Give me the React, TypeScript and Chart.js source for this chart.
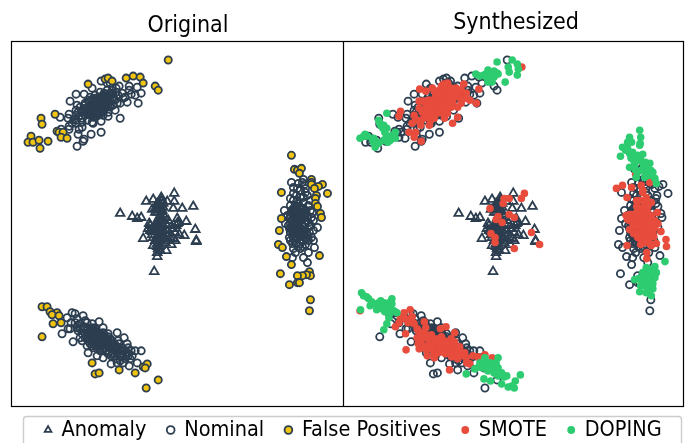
import React, { useEffect, useRef } from "react";
import { Chart, registerables } from "chart.js";

Chart.register(...registerables);

type Pair = [number, number];

const panelTitles = ["Original", "Synthesized"];
const seriesNames = ["Anomaly", "Nominal", "False Positives", "SMOTE", "DOPING"];

const anomaly: Pair[] = [
  [120,213],[132,216],[137,218],[141,217],[146,201],[153,199],[161,197],[167,201],[174,193],[174,201],[173,208],[182,208],[193,206],[186,221],[195,229],[196,241],[184,235],[179,234],[143,238],[154,271],[157,256],[166,250],[171,244],[175,240],[152,209],[155,208],[159,203],[163,203],[157,212],[160,215],[165,217],[168,220],[177,218],[177,223],[149,223],[148,228],[152,228],[155,225],[158,222],[162,223],[167,225],[172,228],[175,232],[170,237],[165,238],[160,240],[157,243],[153,245],[158,248],[162,233],[157,235],[153,237],[152,234],[163,230],[168,230],[158,228],[162,210],[163,220],[158,218],[157,240],[160,245],[168,240],[173,238],[157,252],[178,222],[150,225],[162,200],[196,240],
  [155,212],[157,207],[160,205],[163,207],[160,210],[159,225],[161,227],[159,231],[161,233],[155,230],[157,226],[160,236],[163,236],[155,240],[157,246],[159,238],[165,233],[152,231],[165,242],[160,250],[158,243],[161,218],[163,214],[157,203],[150,230],[161,200],[176,225],
];

const nominalUpper: Pair[] = [
  [77,146],[83,141],[84,139],[91,134],[101,132],[120,118],[138,103],[141,93],[137,87],[129,86],[119,86],[101,81],[84,94],[76,94],[70,101],[60,117],[69,114],[68,118],[69,126],[69,129],[61,129],[78,134],[79,129],[82,127],[77,105],[76,110],[76,115],[76,120],[76,123],[82,122],[87,120],[92,122],[93,123],[101,121],[108,116],[115,110],[120,103],[127,102],[125,97],[131,94],[135,95],[129,90],[118,95],[117,103],[110,107],[107,83],[110,83],[92,88],[100,92],[95,95],[90,97],[85,103],[89,102],[81,112],[85,115],[90,115],[95,112],[100,107],[105,103],[110,93],[113,97],[97,102],[102,100],[107,98],[92,108],[97,108],[100,112],[103,110],[93,103],[88,108],[82,118],[107,90],[112,90],[98,115],[103,115],[93,117],[88,112],[80,107],[85,108],[97,105],[102,105],[105,108],[108,112],[100,103],[95,98],[103,95],[108,102],[115,100],[122,93],[123,98],
  [96,110],[98,108],[100,110],[94,106],[96,104],[99,107],[101,108],[93,110],[95,114],[97,113],[91,112],[104,106],[102,103],[99,101],[106,100],[104,98],
  [85,112],[87,110],[89,110],[91,108],[93,108],[95,106],[97,104],[99,104],[101,102],[103,101],[105,99],[107,96],[109,96],[111,95],[90,106],[92,104],[94,102],[96,100],[98,98],[100,97],[102,97],[104,93],[106,94],[88,114],[90,112],[92,114],[94,113],[96,116],[98,112],[100,114],[102,110],[104,109],[106,105],[108,105],[110,100],[112,99],[113,93],[116,92],[85,105],[83,110],[79,116],[78,112],[74,119],[72,123],[88,100],[92,99],[116,88],[113,105],
];

const nominalLower: Pair[] = [
  [62,333],[73,341],[67,317],[72,312],[75,313],[83,315],[68,328],[71,322],[77,318],[80,323],[87,322],[99,321],[103,327],[93,327],[78,330],[82,340],[88,352],[93,347],[97,355],[103,357],[111,363],[117,332],[124,337],[127,343],[141,350],[135,350],[132,355],[137,362],[129,365],[123,362],[117,362],[108,353],[100,350],[87,345],[80,337],[77,327],[85,333],[90,335],[95,333],[100,333],[105,337],[108,333],[107,342],[98,340],[92,340],[88,328],[113,342],[118,340],[122,347],[115,348],[112,352],[120,355],[127,352],[105,347],[95,343],[102,345],[83,328],[75,322],[70,328],[130,358],[123,353],[117,353],[110,347],
  [98,335],[96,337],[100,338],[103,340],[95,338],[93,335],[92,332],[100,342],[97,343],[105,340],[90,338],[87,337],[85,337],[102,335],[107,345],[110,343],[112,347],
  [84,326],[86,330],[88,332],[90,330],[92,328],[94,330],[96,331],[98,332],[100,335],[102,337],[104,334],[106,338],[108,336],[110,338],[112,340],[114,345],[116,345],[118,347],[120,350],[122,350],[124,350],[126,355],[128,355],[119,343],[88,340],[90,343],[92,345],[94,341],[96,346],[98,345],[100,347],[103,349],[106,350],[109,351],[111,355],[114,355],[116,358],[120,360],[125,358],[128,347],[131,350],[82,333],[80,328],[78,325],[85,320],[92,323],[95,328],[103,332],
];

const nominalRight: Pair[] = [
  [291,182],[303,179],[284,210],[285,223],[289,237],[290,240],[293,248],[292,257],[303,257],[307,262],[314,247],[308,252],[300,248],[317,227],[313,230],[290,205],[293,193],[307,195],[300,190],[298,183],[302,182],[290,223],[293,230],[287,215],[308,240],[297,200],[300,207],[303,202],[308,205],[312,212],[313,220],[310,225],[292,212],[295,218],[298,225],[303,230],[307,235],[297,237],[300,243],[292,243],[293,200],[305,188],[297,188],[310,200],[302,218],[297,212],[300,215],[303,212],[307,217],[295,208],[297,228],[302,225],[305,223],[300,232],[303,240],[293,238],[298,203],[297,220],[292,218],
  [296,215],[298,218],[300,220],[295,222],[294,215],[299,212],[301,217],[296,225],[294,228],[298,232],[302,235],[305,230],[299,235],[293,225],
  [290,215],[291,210],[293,208],[295,205],[297,206],[299,208],[301,209],[303,208],[305,210],[306,213],[294,212],[296,210],[298,214],[302,214],[304,216],[306,220],[308,222],[309,226],[291,228],[292,225],[289,218],[288,225],[290,232],[293,233],[295,235],[297,233],[299,227],[301,228],[303,226],[304,234],[306,238],[309,232],[311,217],[295,213],[295,228],[289,228],[294,240],[296,243],[298,246],[302,246],[305,244],[311,237],[300,197],[303,197],[296,195],[305,192],[310,210],[304,184],[293,187],[290,198],[313,240],[295,252],
];

const falsePositives: Pair[] = [
  [168,60],[88,84],[105,79],[108,78],[112,81],[126,78],[133,76],[140,77],[143,83],[155,86],[158,90],[55,114],[41,118],[42,124],[57,131],[59,132],[63,132],[61,137],[67,138],[31,136],[28,142],[33,142],[39,140],[48,141],[40,148],
  [42,306],[47,306],[50,311],[57,312],[52,314],[59,315],[53,323],[61,322],[42,336],[92,362],[95,373],[99,372],[119,369],[135,372],[143,366],[147,363],[145,367],[158,379],[146,387],
  [291,155],[294,169],[297,170],[301,168],[299,173],[311,179],[311,182],[311,184],[322,184],[318,186],[314,188],[327,193],[281,192],[316,195],[315,198],[315,203],[317,206],[320,213],[321,217],[281,218],[279,230],[278,244],[282,247],[286,256],[291,264],[319,255],[280,273],[309,271],[310,275],[306,274],[302,275],[297,275],[297,282],[299,282],[289,284],[310,299],[309,310],
];

const smote: Pair[] = [
  [182.5,67],[125,84],[140,89],[137.5,103],[119,117],[114,123],[109,83],[107.5,87],[101,90],[97.5,95],[102.5,95],[107.5,93],[112.5,88],[117.5,88],[122.5,90],[127.5,93],[131,100],[122.5,103],[119,107],[114,102],[109,100],[104,100],[99,100],[94,100],[81.5,89],[87.5,91],[81,101],[81,108],[62.5,111],[61,116],[76,115],[77.5,120],[82.5,120],[89,117],[92.5,120],[91,125],[74,123],[82.5,125],[71,132],[77.5,132],[76,137],[83,141],[94,107],[91,110],[99,113],[104,113],[109,113],[106,118],[102.5,108],[107.5,108],[101,105],[112.5,93],[102.5,103],[96,113],[87.5,108],[92.5,113],[87.5,115],[112.5,107],[116,97],[126,98],[94,88],
  [96,105],[98,107],[100,95],[104,95],[106,97],[110,92],[112,97],[96,91],[99,93],[103,86],[105,84],[95,104],[88,104],[84,112],[86,118],[79,120],[96,118],[100,110],[111,102],[117,93],[121,97],[100,101],[105,105],[93,104],[90,100],[85,101],
  [185,193],[182,198],[170,198],[165,198],[164,203],[151,208],[159,216],[157,219],[170,214],[175,217],[163,222],[192,232],[200,244],[175,248],[152,233],[156,237],[156,242],
  [276,188],[282,185],[291,187],[286.5,197],[295,174],[300.5,185],[302,190],[309,182],[299.5,200],[305.5,197],[310.5,202],[304,203],[307,212],[316.5,212],[285.5,215],[289,220],[294,220],[300.5,215],[305.5,218],[314,220],[317,223],[289,229],[297,227],[300.5,230],[305.5,227],[314,227],[320,231],[297,237],[302,235],[307,235],[304,242],[309,237],[300.5,240],[315.5,243],[310.5,245],[286.5,245],[325,239],[325.5,246],[306,252],[306,258],[292,222],[299,222],[310.5,215],[295.5,232],
  [296,206],[300,208],[304,206],[298,212],[302,210],[290,214],[293,217],[296,218],[298,224],[293,225],[296,232],[300,222],[304,224],[309,222],[312,232],[304,230],[308,230],[299,234],[305,240],[313,236],[310,228],[289,214],[295,213],[287,219],[293,233],[300,244],[309,243],[302,192],[306,201],[296,200],[307,206],
  [22.5,310],[66,312],[72,309],[62.5,317],[74,316],[61,322],[57.5,326],[70,322],[76,323],[86,321],[67.5,333],[68,349],[81,348],[89,355],[111,369],[107.5,326],[102,328],[116,332],[79,328],[82.5,332],[87.5,327],[91,337],[96,338],[86,337],[79,337],[92.5,343],[99,343],[106,340],[112.5,338],[89,345],[96,352],[104,348],[112.5,352],[112.5,345],[121,346],[119,358],[127.5,357],[131,363],[134,355],[146,354],[153,357],[139,356],[126,352],[109,342],[101,348],[96,357],[82.5,340],[109,347],[92.5,348],[117.5,352],
  [75,322],[80,330],[84,333],[88,334],[93,334],[96,342],[100,338],[103,342],[106,345],[110,342],[115,345],[118,350],[123,352],[100,352],[107,353],[90,338],[85,345],[95,345],[113,356],[122,355],[128,362],[103,336],[116,341],[80,343],[88,349],[72,318],[67,318],
];

const doping: Pair[] = [
  [158,62],[173,60],[178,64],[169,67],[170,72],[179,69],[149,70],[137,74],[141,76],[145,75],[153,73],[158,73],[159,74],[151,78],[178,75],[166,82],[153,82],[49,113],[41,120],[43,125],[45,128],[49,128],[27.5,134],[22.5,138],[26,136],[36,138],[36.5,143],[37.5,147],[46,140],[50,142],[52.5,140],[57.5,132],[57.5,138],[48.5,136],[155,77],[148,78],[149,82],[42,123],[36,142],[54,135],
  [35,140],[38,141],[41,143],[30,136],[47,132],[46,125],[150,73],[155,71],[147,74],
  [299,130],[300,137],[299.5,143],[289,137],[287,142],[291,142],[282,147],[280,156],[289,153],[297,155],[302,154],[290.5,158],[294,165],[289,167],[304.5,162],[309,163],[312,172],[305.5,172],[300.5,170],[297,172],[295.5,177],[304,177],[314,178],[315.5,183],[307,168],[299,145],[287,148],[292,152],
  [298,160],[300,160],[303,165],[310,170],[293,160],[285,150],[308,175],[295,170],
  [305.5,267],[314,266],[315.5,272],[302,272],[309,275],[294,279],[307,280],[305.5,283],[312,288],[299,291],[310.5,295],[305.5,292],[324,261],[309,287],[314,277],
  [307,268],[310,270],[303,278],[306,275],[300,285],[298,278],[308,292],[312,283],[306,287],
  [24,292],[26,295],[31,298],[32.5,305],[41,302],[44,305],[54,298],[52.5,305],[23,309],[39,309],[47.5,308],[52.5,312],[56,310],[51,317],[49,323],[46,329],[54,303],[59,312],
  [43,300],[46,302],[49,304],[51,302],[47,311],[44,308],[37,303],[29,296],[34,301],
  [159,357],[141,362],[146,360],[151,362],[144,367],[149,370],[136,368],[127.5,373],[156,368],[159,367],[162.5,372],[167.5,375],[181,374],[145,378],[151.5,380],[162.5,383],[176,380],[172.5,385],[169,386],[175,387],[159,375],
  [143,364],[148,365],[150,364],[154,365],[146,357],[157,362],[155,372],[165,376],[140,366],
];

const nominal: Pair[] = [...nominalUpper, ...nominalLower, ...nominalRight];

const NAVY = "#2c3e50";
const GOLD = "#f1c40f";
const RED = "#e74c3c";
const GREEN = "#2ecc71";
const FONT = "'DejaVu Sans Condensed', 'DejaVu Sans'";
const LEGEND_FONT_SIZE = 21.5;
const LEGEND_PADDING = 21.5;

const toPoints = (rows: Pair[]) => rows.map(([x, y]) => ({ x, y }));

const framePlugin = {
  id: "frame",
  beforeDraw(chart: any) {
    const legend = chart.legend;
    legend.top = 430 - LEGEND_PADDING - LEGEND_FONT_SIZE / 2;
    const width = legend.right - legend.left;
    legend.left = 17;
    legend.right = 17 + width;
  },
  afterDatasetsDraw(chart: any) {
    const { ctx, chartArea: a } = chart;
    const mid = 343.5;
    ctx.save();
    ctx.strokeStyle = "#000";
    ctx.lineWidth = 1.2;
    ctx.strokeRect(a.left + 0.5, a.top + 0.5, a.width - 1, a.height - 1);
    ctx.beginPath();
    ctx.moveTo(mid, a.top);
    ctx.lineTo(mid, a.bottom);
    ctx.stroke();
    ctx.fillStyle = "#000";
    ctx.textAlign = "center";
    ctx.textBaseline = "alphabetic";
    ctx.font = `23px ${FONT}`;
    ctx.fillText(panelTitles[0], 188, 32);
    ctx.fillText(panelTitles[1], 516, 29);
    ctx.restore();
  },
  afterDraw(chart: any) {
    const { ctx } = chart;
    ctx.save();
    ctx.strokeStyle = "#cccccc";
    ctx.lineWidth = 1.4;
    ctx.beginPath();
    ctx.roundRect(23.5, 416.5, 658, 30, 3);
    ctx.stroke();
    ctx.restore();
  },
};

export default function App() {
  const ref = useRef<HTMLCanvasElement | null>(null);

  useEffect(() => {
    document.body.style.margin = "0";
    const hollow = { borderColor: NAVY, borderWidth: 1.8, backgroundColor: "rgba(0,0,0,0)" };
    const chart = new Chart(ref.current as HTMLCanvasElement, {
      type: "scatter",
      data: {
        datasets: [
          { label: seriesNames[0], order: 7, data: toPoints(anomaly), xAxisID: "xL", pointStyle: "triangle", pointRadius: 5, ...hollow },
          { label: seriesNames[1], order: 6, data: toPoints(nominal), xAxisID: "xL", pointStyle: "circle", pointRadius: 3.6, ...hollow },
          { label: seriesNames[2], order: 5, data: toPoints(falsePositives), xAxisID: "xL", pointStyle: "circle", pointRadius: 3.6, borderColor: NAVY, borderWidth: 1.8, backgroundColor: GOLD },
          { label: seriesNames[0] + " synthesized", order: 4, data: toPoints(anomaly), xAxisID: "xR", pointStyle: "triangle", pointRadius: 5, ...hollow },
          { label: seriesNames[1] + " synthesized", order: 3, data: toPoints([...nominal, ...falsePositives]), xAxisID: "xR", pointStyle: "circle", pointRadius: 3.6, ...hollow },
          { label: seriesNames[3], order: 2, data: toPoints(smote), xAxisID: "xR", pointStyle: "circle", pointRadius: 3.8, borderWidth: 0, borderColor: RED, backgroundColor: RED },
          { label: seriesNames[4], order: 1, data: toPoints(doping), xAxisID: "xR", pointStyle: "circle", pointRadius: 3.8, borderWidth: 0, borderColor: GREEN, backgroundColor: GREEN },
        ],
      },
      options: {
        responsive: false,
        animation: false,
        layout: { padding: { left: 11, right: 7, top: 41, bottom: -17 } },
        scales: {
          xL: { type: "linear", display: false, min: 11, max: 683 },
          xR: { type: "linear", display: false, min: -322.6, max: 342.8 },
          y: { type: "linear", display: false, reverse: true, min: 41, max: 406 },
        },
        plugins: {
          tooltip: { enabled: false },
          legend: {
            display: true,
            position: "bottom",
            labels: {
              usePointStyle: true,
              boxWidth: 5.5,
              boxHeight: 5.5,
              padding: LEGEND_PADDING,
              color: "#000",
              font: { family: FONT, size: LEGEND_FONT_SIZE },
              filter: (item: any) => item.datasetIndex !== 3 && item.datasetIndex !== 4,
              sort: (a: any, b: any) => a.datasetIndex - b.datasetIndex,
            },
          },
        },
      },
      plugins: [framePlugin],
    } as any);
    return () => chart.destroy();
  }, []);

  return (
    <div style={{ width: 691, height: 443, overflow: "hidden" }}>
      <canvas ref={ref} width={691} height={443} style={{ display: "block" }} />
    </div>
  );
}
